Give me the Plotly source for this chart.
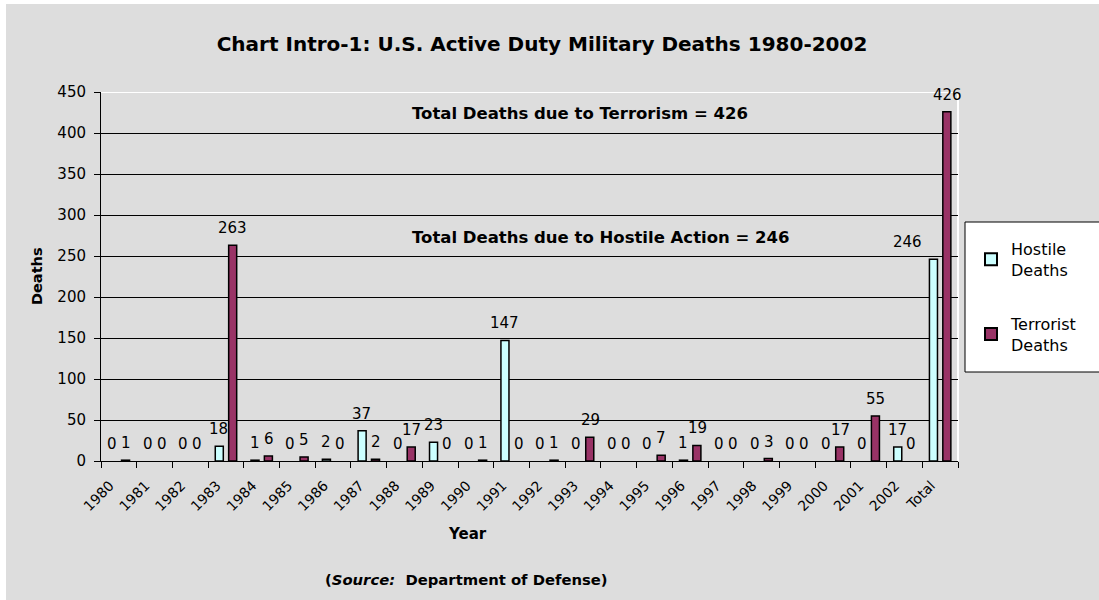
import plotly.graph_objects as go

years = ["1980", "1981", "1982", "1983", "1984", "1985", "1986", "1987", "1988", "1989",
         "1990", "1991", "1992", "1993", "1994", "1995", "1996", "1997", "1998", "1999",
         "2000", "2001", "2002", "Total"]
hostile = [0, 0, 0, 18, 1, 0, 2, 37, 0, 23, 0, 147, 0, 0, 0, 0, 1, 0, 0, 0, 0, 0, 17, 246]
terrorist = [1, 0, 0, 263, 6, 5, 0, 2, 17, 0, 1, 0, 1, 29, 0, 7, 19, 0, 3, 0, 17, 55, 0, 426]

BG = "#DDDDDD"
FONT = "DejaVu Sans"
W, H = 1099, 600
L, R, T, B = 101, 1099 - 958, 92, 600 - 461
PW = W - L - R
PH = H - T - B


def px_x(px):
    return (px - L) / PW


def px_y(py):
    return (H - B - py) / PH


def outline(vals):
    return [0 if v == 0 else 1.5 for v in vals]


fig = go.Figure()
fig.add_trace(go.Bar(x=years, y=hostile, name="Hostile<br>Deaths",
                     marker=dict(color="#CCFFFF", line=dict(color="black", width=outline(hostile))),
                     legendgroup="h"))
fig.add_trace(go.Bar(x=years, y=terrorist, name="Terrorist<br>Deaths",
                     marker=dict(color="#993366", line=dict(color="black", width=outline(terrorist))),
                     legendgroup="t"))

annotations = []
for i, (yr, hv, tv) in enumerate(zip(years, hostile, terrorist)):
    hshift = -7 if yr != "Total" else -33
    annotations.append(dict(x=i, y=hv, xref="x", yref="y", text=str(hv), showarrow=False,
                            xshift=hshift, yshift=6, yanchor="bottom",
                            font=dict(family=FONT, size=15, color="black")))
    annotations.append(dict(x=i, y=tv, xref="x", yref="y", text=str(tv), showarrow=False,
                            xshift=7, yshift=6, yanchor="bottom",
                            font=dict(family=FONT, size=15, color="black")))

annotations += [
    dict(x=px_x(410), y=px_y(113), xref="paper", yref="paper", xanchor="left", yanchor="middle",
         text="<b>Total Deaths due to Terrorism = 426</b>", showarrow=False,
         font=dict(family=FONT, size=16.5, color="black")),
    dict(x=px_x(410), y=px_y(237), xref="paper", yref="paper", xanchor="left", yanchor="middle",
         text="<b>Total Deaths due to Hostile Action = 246</b>", showarrow=False,
         font=dict(family=FONT, size=16.5, color="black")),
    dict(x=px_x(37), y=px_y(276), xref="paper", yref="paper", xanchor="center", yanchor="middle",
         text="<b>Deaths</b>", textangle=-90, showarrow=False,
         font=dict(family=FONT, size=14.5, color="black")),
    dict(x=px_x(467), y=px_y(534), xref="paper", yref="paper", xanchor="center", yanchor="middle",
         text="<b>Year</b>", showarrow=False,
         font=dict(family=FONT, size=15, color="black")),
    dict(x=px_x(466), y=px_y(579), xref="paper", yref="paper", xanchor="center", yanchor="middle",
         text="<b>(<i>Source:</i>  Department of Defense)</b>", showarrow=False,
         font=dict(family=FONT, size=14.8, color="black")),
]

fig.update_layout(
    width=W, height=H,
    paper_bgcolor=BG, plot_bgcolor=BG,
    margin=dict(l=L, r=R, t=T, b=B, autoexpand=False),
    title=dict(text="<b>Chart Intro-1: U.S. Active Duty Military Deaths 1980-2002</b>",
               x=542 / W, y=1 - 44 / H, xref="container", yref="container",
               xanchor="center", yanchor="middle",
               font=dict(family=FONT, size=20, color="black")),
    barmode="group", bargap=0.25, bargroupgap=0.4,
    showlegend=True,
    legend=dict(x=px_x(971), y=px_y(232), xanchor="left", yanchor="top",
                bgcolor="rgba(0,0,0,0)", borderwidth=0,
                font=dict(family=FONT, size=16, color="black"),
                tracegroupgap=30, itemsizing="constant"),
    annotations=annotations,
    shapes=[
        dict(type="line", xref="paper", yref="y", x0=0, x1=1, y0=450, y1=450,
             line=dict(color="white", width=2), layer="between"),
        dict(type="line", xref="paper", yref="paper", x0=1, x1=1, y0=0, y1=1,
             line=dict(color="white", width=2), layer="between"),
        # legend frame
        dict(type="rect", xref="paper", yref="paper",
             x0=px_x(965), x1=px_x(1110), y0=px_y(372), y1=px_y(222),
             fillcolor="white", line=dict(color="black", width=1), layer="above"),
        # page edge strips seen in the reference
        dict(type="rect", xref="paper", yref="paper",
             x0=px_x(-5), x1=px_x(6), y0=px_y(610), y1=px_y(-5),
             fillcolor="white", line=dict(width=0), layer="above"),
        dict(type="rect", xref="paper", yref="paper",
             x0=px_x(-5), x1=px_x(1110), y0=px_y(4), y1=px_y(-5),
             fillcolor="white", line=dict(width=0), layer="above"),
    ],
)

fig.update_xaxes(type="category", range=[-0.5, len(years) - 0.5], autorange=False,
                 showline=True, linecolor="black", linewidth=1,
                 ticks="outside", tickson="boundaries", ticklen=6, tickcolor="black",
                 tickangle=-45, showgrid=False, ticklabelstandoff=10, ticklabelshift=-9,
                 tickfont=dict(family=FONT, size=14, color="black"))
fig.update_yaxes(range=[0, 450], dtick=50, showline=True, linecolor="black", linewidth=1,
                 ticks="outside", ticklen=6, tickcolor="black", ticklabelstandoff=5,
                 showgrid=True, gridcolor="black", gridwidth=1, zeroline=False,
                 tickfont=dict(family=FONT, size=15, color="black"))

fig.write_html("out.html", config={"displayModeBar": False},
               post_script="document.body.style.margin='0';document.body.style.overflow='hidden';")
